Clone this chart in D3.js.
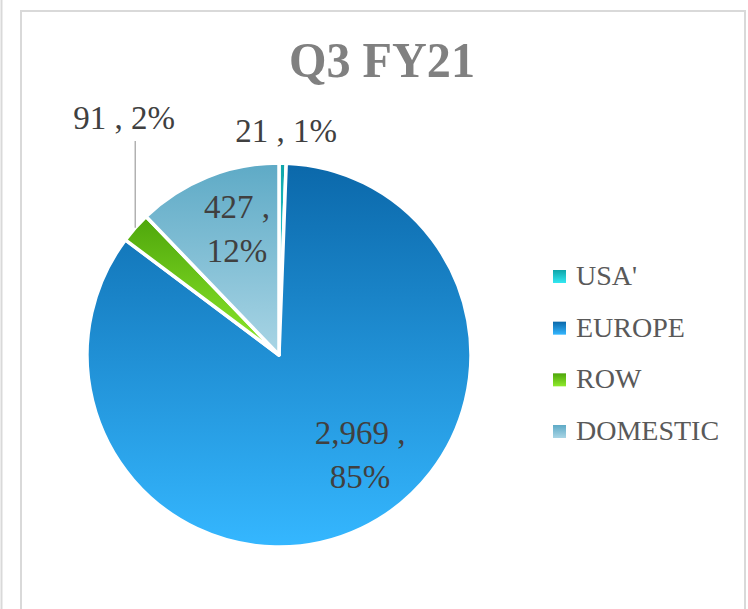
<!DOCTYPE html>
<html>
<head>
<meta charset="utf-8">
<script src="https://cdn.jsdelivr.net/npm/d3@7"></script>
<style>
  body { margin: 0; background: #fff; }
  svg { display: block; }
  .serif { font-family: "Liberation Serif", "DejaVu Serif", serif; }
</style>
</head>
<body>
<svg id="chart" width="748" height="609"></svg>
<script>
// data
const regions = ["USA'", "EUROPE", "ROW", "DOMESTIC"]
const sales = [21, 2969, 91, 427]
const shares = ["1%", "85%", "2%", "12%"]
const title = "Q3 FY21"

// gradient stops per slice, top -> bottom
const colTop = ["#0fa5a9", "#0b68aa", "#4ea60b", "#5eaac6"]
const colBottom = ["#34e8f2", "#35b7ff", "#8fea2c", "#a9d5e5"]

const width = 748, height = 609
const cx = 279, cy = 355, radius = 192

// where each data label sits, relative to pie centre (first baseline)
const labelOffset = {
    "USA'": [7, -213],
    "EUROPE": [81, 89],
    "ROW": [-155, -226],
    "DOMESTIC": [-42, -137]
}
const wrapped = ["EUROPE", "DOMESTIC"]

let svg = d3.select("#chart")

// chart frame
svg.append("line")
    .attr("x1", 1.5).attr("x2", 1.5).attr("y1", 0).attr("y2", height)
    .attr("stroke", "#d9d9d9").attr("stroke-width", 2)
svg.append("rect")
    .attr("x", 21).attr("y", 11).attr("width", 724).attr("height", height)
    .attr("fill", "#fff").attr("stroke", "#d9d9d9").attr("stroke-width", 2)

let defs = svg.append("defs")
regions.forEach((r, i) => {
    let g = defs.append("linearGradient")
        .attr("id", "grad" + i)
        .attr("x1", 0).attr("y1", 0).attr("x2", 0).attr("y2", 1)
    g.append("stop").attr("offset", "0%").attr("stop-color", colTop[i])
    g.append("stop").attr("offset", "100%").attr("stop-color", colBottom[i])
})

svg.append("text")
    .attr("class", "serif")
    .attr("x", 382).attr("y", 77)
    .attr("text-anchor", "middle")
    .attr("font-weight", "bold")
    .attr("font-size", 50)
    .attr("textLength", 186)
    .attr("lengthAdjust", "spacingAndGlyphs")
    .attr("fill", "#808080")
    .text(title)

let pieData = d3.pie().sort(null).value(d => d)(sales)
let arc = d3.arc().innerRadius(0).outerRadius(radius)

let pieG = svg.append("g").attr("transform", `translate(${cx},${cy})`)

pieG.selectAll("path")
    .data(pieData)
    .enter()
    .append("path")
    .attr("d", arc)
    .attr("fill", (d, i) => `url(#grad${i})`)
    .attr("stroke", "#fff")
    .attr("stroke-width", 3.5)
    .attr("stroke-linejoin", "round")

// leader line for ROW label
let rowArc = pieData[2]
let midA = (rowArc.startAngle + rowArc.endAngle) / 2
let ex = Math.sin(midA) * radius, ey = -Math.cos(midA) * radius
pieG.append("line")
    .attr("x1", ex).attr("x2", ex)
    .attr("y1", labelOffset["ROW"][1] + 12).attr("y2", ey)
    .attr("stroke", "#a6a6a6").attr("stroke-width", 1.3)

const fmt = d3.format(",")

let labels = pieG.selectAll(".lbl")
    .data(pieData)
    .enter()
    .append("text")
    .attr("class", "lbl serif")
    .attr("text-anchor", "middle")
    .attr("font-size", 33)
    .attr("fill", "#404040")
    .attr("transform", (d, i) => `translate(${labelOffset[regions[i]][0]},${labelOffset[regions[i]][1]})`)

labels.each(function (d, i) {
    let t = d3.select(this)
    let first = fmt(sales[i]) + " ,"
    if (wrapped.includes(regions[i])) {
        t.append("tspan").attr("x", 0).attr("y", 0).text(first)
        t.append("tspan").attr("x", 0).attr("y", 44).text(shares[i])
    } else {
        t.append("tspan").attr("x", 0).attr("y", 0).text(first + " " + shares[i])
    }
})

// legend
let ly = d3.scalePoint().domain(regions).range([285, 440])

let legend = svg.append("g")
    .selectAll("g")
    .data(regions)
    .enter()
    .append("g")

legend.append("rect")
    .attr("x", 553)
    .attr("y", d => ly(d) - 15)
    .attr("width", 13).attr("height", 13)
    .attr("fill", (d, i) => `url(#grad${i})`)

legend.append("text")
    .attr("class", "serif")
    .attr("x", 576)
    .attr("y", d => ly(d))
    .attr("font-size", 28)
    .attr("fill", "#595959")
    .text(d => d)
</script>
</body>
</html>
